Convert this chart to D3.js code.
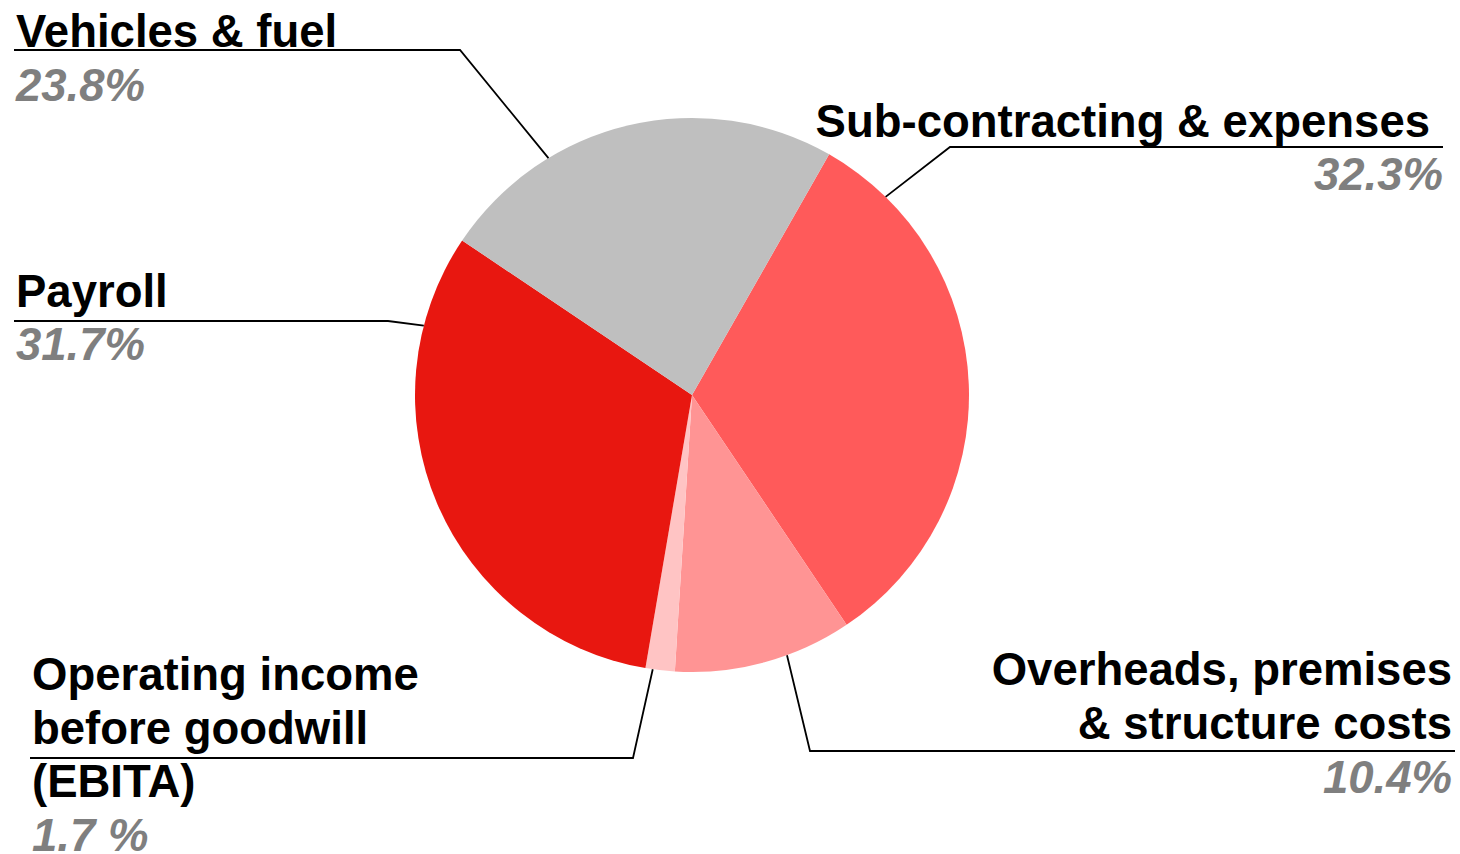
<!DOCTYPE html>
<html>
<head>
<meta charset="utf-8">
<script src="https://cdn.jsdelivr.net/npm/d3@7"></script>
<style>
  html, body { margin: 0; padding: 0; background: #ffffff; }
  svg text { font-family: "Liberation Sans", Arial, sans-serif; font-weight: bold; }
</style>
</head>
<body>
<svg id="chart" width="1460" height="854"></svg>
<script>
// Cost breakdown, share of revenue (%)
const categories = [
  "Sub-contracting & expenses",
  "Overheads, premises & structure costs",
  "Operating income before goodwill (EBITA)",
  "Payroll",
  "Vehicles & fuel"
];
const values = [32.3, 10.4, 1.7, 31.7, 23.8];
const valueLabels = ["32.3%", "10.4%", "1.7 %", "31.7%", "23.8%"];
const colors = ["#FF5A5A", "#FF9494", "#FFC4C4", "#E81710", "#BFBFBF"];

// Label text lines for each category
const labelLines = [
  ["Sub-contracting & expenses"],
  ["Overheads, premises", "& structure costs"],
  ["Operating income", "before goodwill", "(EBITA)"],
  ["Payroll"],
  ["Vehicles & fuel"]
];

const W = 1460, H = 854;
const cx = 692, cy = 395, R = 277;
const startAngle = 0.518;
const fontSize = 45.5;

const svg = d3.select("#chart");

const pie = d3.pie().sort(null).value(d => d)
  .startAngle(startAngle).endAngle(startAngle + 2 * Math.PI);
const arcs = pie(values);
const arc = d3.arc().innerRadius(0).outerRadius(R);

const g = svg.append("g").attr("transform", `translate(${cx},${cy})`);
g.selectAll("path.slice")
  .data(arcs)
  .enter().append("path")
  .attr("class", "slice")
  .attr("d", arc)
  .attr("fill", (d, i) => colors[i]);

// Label layout: where the leader meets the slice (fraction of the slice's sweep),
// the elbow point, the underline extent, and where the text sits.
const layout = [
  { frac: 0.126, elbow: [950, 147], line: [950, 1443], anchor: "end", x: 1430, base: 137, lh: 54, pctX: 1443, pctY: 190 },
  { frac: 0.37, elbow: [810, 751], line: [810, 1455], anchor: "end", x: 1452, base: 685, lh: 54, pctX: 1452, pctY: 793 },
  { frac: 0.75, elbow: [633, 758], line: [30, 633], anchor: "start", x: 32, base: 690, lh: 53.5, pctX: 32, pctY: 851 },
  { frac: 0.83, elbow: [388, 321], line: [14, 388], anchor: "start", x: 16, base: 307, lh: 54, pctX: 16, pctY: 360 },
  { frac: 0.29, elbow: [460, 50], line: [14, 460], anchor: "start", x: 16, base: 47, lh: 54, pctX: 16, pctY: 101 }
];

const lineGen = d3.line();

arcs.forEach((a, i) => {
  const L = layout[i];
  const ang = a.startAngle + (a.endAngle - a.startAngle) * L.frac;
  const px = cx + R * Math.sin(ang);
  const py = cy - R * Math.cos(ang);
  const ey = L.elbow[1];
  const far = L.line[0] === L.elbow[0] ? L.line[1] : L.line[0];
  svg.append("path")
    .attr("d", lineGen([[px, py], L.elbow, [far, ey]]))
    .attr("fill", "none")
    .attr("stroke", "#000")
    .attr("stroke-width", 1.8);

  const t = svg.append("g");
  labelLines[i].forEach((txt, j) => {
    t.append("text")
      .attr("x", L.x)
      .attr("y", L.base + j * L.lh)
      .attr("text-anchor", L.anchor)
      .attr("font-size", fontSize)
      .attr("fill", "#000")
      .text(txt);
  });
  svg.append("text")
    .attr("x", L.pctX)
    .attr("y", L.pctY)
    .attr("text-anchor", L.anchor)
    .attr("font-size", fontSize)
    .attr("font-style", "italic")
    .attr("fill", "#7F7F7F")
    .text(valueLabels[i]);
});
</script>
</body>
</html>
